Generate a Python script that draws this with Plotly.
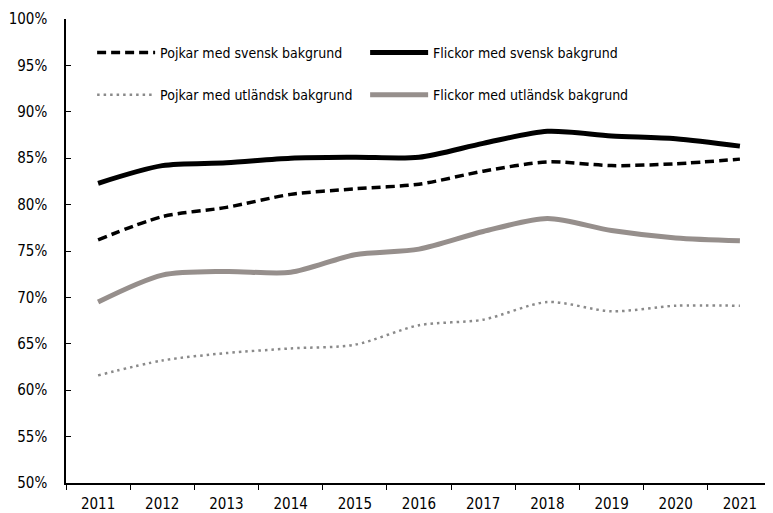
import plotly.graph_objects as go

years = [str(y) for y in range(2011, 2022)]

pojkar_svensk = [76.2, 78.7, 79.7, 81.1, 81.7, 82.2, 83.6, 84.6, 84.2, 84.4, 84.9]
flickor_svensk = [82.3, 84.2, 84.5, 85.0, 85.1, 85.1, 86.6, 87.9, 87.4, 87.1, 86.3]
pojkar_utl = [61.6, 63.2, 64.0, 64.5, 64.9, 67.0, 67.6, 69.5, 68.5, 69.1, 69.1]
flickor_utl = [69.5, 72.4, 72.8, 72.7, 74.6, 75.2, 77.1, 78.5, 77.2, 76.4, 76.1]

FONT = "DejaVu Sans Condensed"

fig = go.Figure()
fig.add_trace(go.Scatter(x=years, y=pojkar_svensk, name="Pojkar med svensk bakgrund", mode="lines",
                         line=dict(color="black", width=3.5, dash="9px,5px", shape="spline", smoothing=0.8),
                         legend="legend"))
fig.add_trace(go.Scatter(x=years, y=flickor_svensk, name="Flickor med svensk bakgrund", mode="lines",
                         line=dict(color="black", width=5, shape="spline", smoothing=0.8),
                         legend="legend"))
fig.add_trace(go.Scatter(x=years, y=pojkar_utl, name="Pojkar med utländsk bakgrund", mode="lines",
                         line=dict(color="#8a8a8a", width=2.5, dash="2.5px,4px", shape="spline", smoothing=0.8),
                         legend="legend2"))
fig.add_trace(go.Scatter(x=years, y=flickor_utl, name="Flickor med utländsk bakgrund", mode="lines",
                         line=dict(color="#968f8c", width=5, shape="spline", smoothing=0.8),
                         legend="legend2"))

# the page body adds an 8px margin, so the figure is sized and padded to suit
leg = dict(orientation="h", entrywidth=200, itemwidth=58, xanchor="left", yanchor="middle",
           font=dict(family=FONT, size=14, color="black"), bgcolor="rgba(0,0,0,0)")
fig.update_layout(
    width=765, height=505,
    margin=dict(l=58, r=1, t=11, b=30),
    plot_bgcolor="white", paper_bgcolor="white",
    font=dict(family=FONT, size=15, color="black"),
    legend=dict(leg, x=0.037, y=0.927),
    legend2=dict(leg, x=0.037, y=0.836),
    xaxis=dict(type="category", tickson="boundaries", range=[-0.5, 10.5],
               showline=True, linecolor="black", linewidth=1.5,
               ticks="outside", ticklen=5, tickcolor="black", showgrid=False,
               ticklabelstandoff=6),
    yaxis=dict(range=[50, 100], dtick=5, ticksuffix="%",
               showline=True, linecolor="black", linewidth=1.5,
               ticks="inside", ticklen=5, tickcolor="black", showgrid=False, zeroline=False,
               ticklabelstandoff=14),
)

fig.write_html("out.html")
